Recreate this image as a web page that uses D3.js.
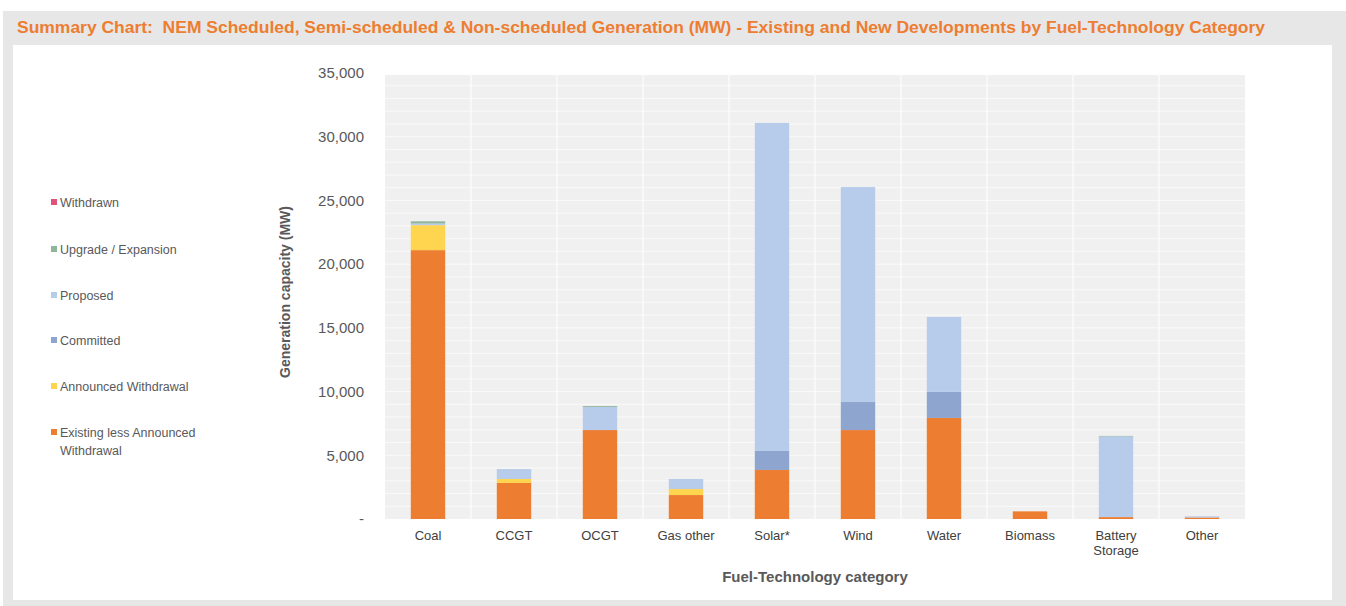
<!DOCTYPE html>
<html><head><meta charset="utf-8">
<script src="https://cdn.jsdelivr.net/npm/d3@7"></script>
<style>body{margin:0;background:#fff}svg{display:block}</style>
</head><body>
<svg id="c" width="1346" height="606"></svg>
<script>
const categories = ["Coal","CCGT","OCGT","Gas other","Solar*","Wind","Water","Biomass","Battery Storage","Other"];
const seriesNames = ["Existing less Announced Withdrawal","Announced Withdrawal","Committed","Proposed","Upgrade / Expansion","Withdrawn"];
const existing      = [21100, 2830, 6980, 1880, 3850, 6980, 7930, 600, 150, 120];
const announcedWd   = [1960, 310, 0, 470, 0, 0, 0, 0, 0, 0];
const committed     = [0, 0, 0, 0, 1490, 2200, 2040, 0, 0, 0];
const proposed      = [130, 780, 1820, 790, 25740, 16870, 5890, 0, 6330, 90];
const upgrade       = [170, 0, 70, 0, 0, 0, 0, 0, 40, 0];
const withdrawn     = [0, 0, 0, 0, 0, 0, 0, 0, 0, 0];
const yTicks = [0, 5000, 10000, 15000, 20000, 25000, 30000, 35000];
const colors = ["#ED7D31","#FFD44F","#8EA6CF","#B7CBEA","#8FB59A","#E0527A"];

const svg = d3.select("#c");
// frame
svg.append("rect").attr("x",3).attr("y",11).attr("width",1343).attr("height",595).attr("fill","#e7e7e7");
svg.append("rect").attr("x",13).attr("y",45).attr("width",1319).attr("height",555).attr("fill","#ffffff");
svg.append("text").attr("x",17).attr("y",33).attr("xml:space","preserve").style("white-space","pre")
  .attr("font-family","'Liberation Sans Narrow','Liberation Sans',Arial,sans-serif")
  .attr("font-weight","bold").attr("font-size",16).attr("fill","#ED7D31")
  .attr("textLength",1248).attr("lengthAdjust","spacingAndGlyphs")
  .text("Summary Chart:  NEM Scheduled, Semi-scheduled & Non-scheduled Generation (MW) - Existing and New Developments by Fuel-Technology Category");

const x = d3.scaleBand().domain(categories).range([385,1245]).paddingInner(0.6).paddingOuter(0.3);
const y = d3.scaleLinear().domain([0,35000]).range([519,73]);

// plot background
const xs = d3.scaleBand().domain(categories).range([385,1245]);
svg.append("rect").attr("x",385).attr("y",y(35000)+2).attr("width",860).attr("height",y(0)-y(35000)-2).attr("fill","#f0f0f0");
svg.append("g").selectAll("line").data(d3.range(1000,35000,1000)).join("line")
  .attr("x1",385).attr("x2",1245).attr("y1",d=>y(d)).attr("y2",d=>y(d))
  .attr("stroke","#fafafa").attr("stroke-width",1);
svg.append("g").selectAll("line").data(categories.slice(1)).join("line")
  .attr("x1",d=>xs(d)).attr("x2",d=>xs(d)).attr("y1",y(35000)).attr("y2",y(0))
  .attr("stroke","#fbfbfb").attr("stroke-width",1.5);

// stacked bars
const rows = categories.map((c,i)=>({cat:c, s0:existing[i], s1:announcedWd[i], s2:committed[i], s3:proposed[i], s4:upgrade[i], s5:withdrawn[i]}));
const stack = d3.stack().keys(["s0","s1","s2","s3","s4","s5"]);
const stacked = stack(rows);
svg.append("g").selectAll("g").data(stacked).join("g").attr("fill",(d,i)=>colors[i])
  .selectAll("rect").data(d=>d).join("rect")
  .attr("x",d=>x(d.data.cat)).attr("width",x.bandwidth())
  .attr("y",d=>y(d[1])).attr("height",d=>Math.max(0,y(d[0])-y(d[1])));

// y axis
const yAxis = d3.axisLeft(y).tickValues(yTicks).tickSize(0).tickPadding(0)
  .tickFormat(d=>d===0?"-":d3.format(",")(d));
const ga = svg.append("g").attr("transform","translate(364,0)").call(yAxis);
ga.select(".domain").remove();
ga.selectAll("text").attr("font-family","'Liberation Sans',Arial,sans-serif").attr("font-size",15).attr("fill","#595959");

svg.append("text").attr("transform","translate(290,292) rotate(-90)").attr("text-anchor","middle")
  .attr("font-family","'Liberation Sans',Arial,sans-serif").attr("font-size",14).attr("font-weight","bold").attr("fill","#595959")
  .text("Generation capacity (MW)");

// x axis labels
const xAxis = d3.axisBottom(x).tickSize(0).tickPadding(0);
const gx = svg.append("g").attr("transform","translate(0,531)").call(xAxis);
gx.select(".domain").remove();
gx.selectAll("text").attr("font-family","'Liberation Sans',Arial,sans-serif").attr("font-size",13).attr("fill","#404040")
  .each(function(d){
    const t = d3.select(this); const words = d.split(" ");
    if (d==="Battery Storage"){ t.text(null);
      words.forEach((w,k)=>t.append("tspan").attr("x",0).attr("dy",k?"1.15em":"0.71em").text(w)); }
  });
svg.append("text").attr("x",815).attr("y",582).attr("text-anchor","middle")
  .attr("font-family","'Liberation Sans',Arial,sans-serif").attr("font-size",15).attr("font-weight","bold").attr("fill","#595959")
  .text("Fuel-Technology category");

// legend
const legendOrder = [5,4,3,2,1,0];
const legendY = [203,250,296,341,387,433];
const lg = svg.append("g");
legendOrder.forEach((si,k)=>{
  lg.append("rect").attr("x",51).attr("y",legendY[k]-4).attr("width",6).attr("height",6).attr("fill",colors[si]);
  const t = lg.append("text").attr("x",60).attr("y",legendY[k]+4)
    .attr("font-family","'Liberation Sans',Arial,sans-serif").attr("font-size",12.5).attr("fill","#595959");
  if (si===0){
    t.append("tspan").attr("x",60).text("Existing less Announced");
    t.append("tspan").attr("x",60).attr("dy",18).text("Withdrawal");
  } else t.text(seriesNames[si]);
});
</script>
</body></html>
